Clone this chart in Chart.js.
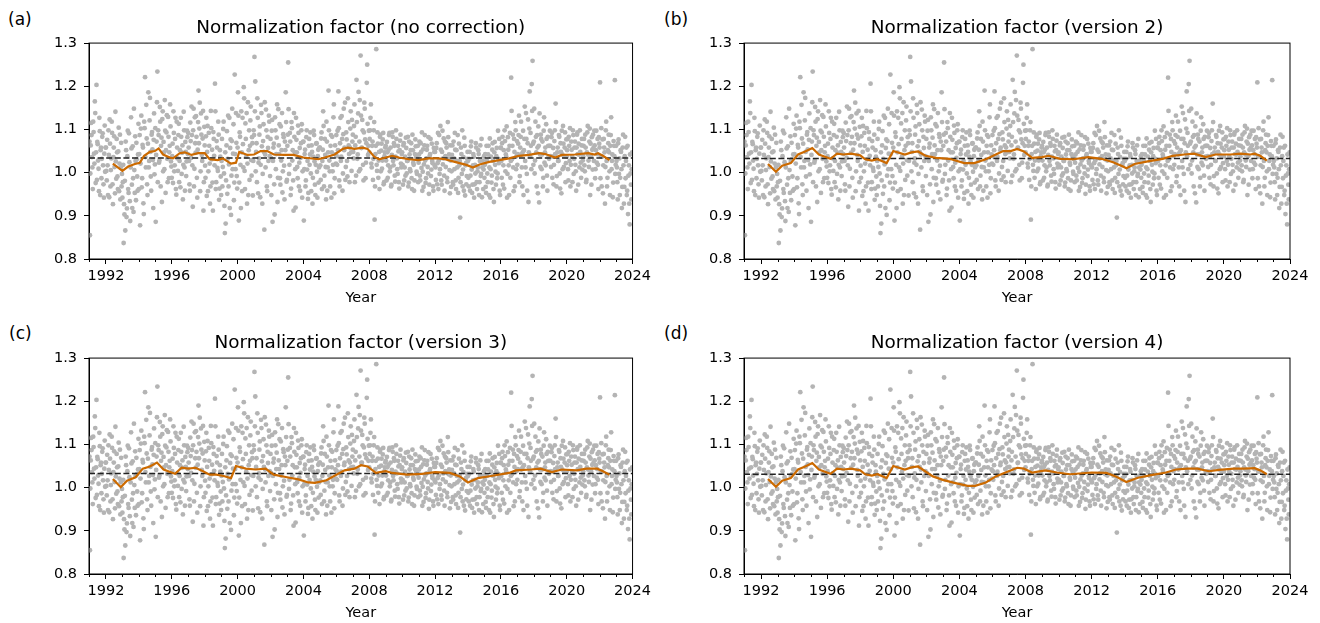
<!DOCTYPE html>
<html>
<head>
<meta charset="utf-8">
<script src="https://cdn.jsdelivr.net/npm/chart.js@4.4.0/dist/chart.umd.min.js"></script>
<style>
body { margin: 0; width: 1320px; height: 623px; overflow: hidden; background: #fff; font-family: 'DejaVu Sans', sans-serif; }
canvas { position: absolute; }
.tag { position: absolute; font-size: 17px; line-height: 20px; color: #000; }
</style>
</head>
<body>
<div class="tag" style="left:8px;top:9px">(a)</div>
<div class="tag" style="left:664px;top:9px">(b)</div>
<div class="tag" style="left:9px;top:323px">(c)</div>
<div class="tag" style="left:664px;top:323px">(d)</div>
<canvas id="chartA" style="left:0;top:0" width="655" height="315"></canvas>
<canvas id="chartB" style="left:655px;top:0" width="665" height="315"></canvas>
<canvas id="chartC" style="left:0;top:315px" width="655" height="315"></canvas>
<canvas id="chartD" style="left:655px;top:315px" width="665" height="315"></canvas>
<script>
const startYear = 1991;
const perYear = 20;
// one row per year, samples in time order (first half of each sampling step)
const scatterRows = [
  [0.855,1.063,1.087,1.012,1.118,1.044,1.165,0.976,1.203,1.071,1.028,0.957,1.096,1.052,0.987,1.083,1.017,0.942,1.109,1.058],
  [1.004,1.076,0.948,1.041,1.123,0.968,1.033,1.092,0.927,1.058,1.013,1.141,0.986,1.047,0.962,1.104,1.021,0.938,1.069,0.997],
  [0.978,0.837,0.903,0.866,1.052,0.917,1.097,0.953,1.024,0.888,1.128,0.972,1.061,0.909,1.006,1.084,0.936,1.031,0.958,1.113],
  [1.043,0.878,1.102,0.966,1.064,0.929,1.118,1.221,1.012,1.079,0.948,1.186,1.027,1.173,0.991,1.088,1.054,0.918,1.137,1.019],
  [0.886,1.072,1.234,1.098,1.023,1.152,0.968,1.081,1.124,1.003,1.047,1.168,0.953,1.093,1.032,1.129,0.987,1.062,1.107,1.014],
  [1.038,0.976,1.092,1.017,1.127,0.949,1.058,1.004,1.113,1.027,0.966,1.083,1.046,0.938,1.141,1.012,1.071,0.992,1.097,1.043],
  [1.058,0.973,1.116,1.034,1.087,0.921,1.148,1.009,1.068,1.131,0.988,1.053,1.19,1.102,0.957,1.137,1.041,1.079,0.912,1.106],
  [1.016,1.084,0.946,1.108,1.003,1.062,0.928,1.143,1.031,0.977,1.094,1.039,1.206,0.962,1.073,1.011,1.118,0.937,1.052,0.991],
  [1.027,0.968,1.101,0.998,0.86,0.882,1.063,0.951,1.132,1.019,0.918,1.077,0.993,1.148,1.044,0.936,1.227,1.008,1.069,0.963],
  [1.186,0.889,1.093,1.018,1.142,0.957,1.066,1.198,1.004,1.114,1.037,0.928,1.163,1.052,0.983,1.121,1.029,1.082,0.947,1.098],
  [1.268,1.211,1.048,0.978,1.127,1.023,1.088,0.943,1.157,1.061,0.997,1.112,0.868,1.042,1.146,0.968,1.083,1.027,1.118,0.992],
  [1.034,1.097,0.886,1.058,0.973,1.128,1.008,1.081,0.932,1.147,1.043,0.987,1.107,1.052,0.954,1.089,1.016,1.072,1.186,0.979],
  [1.062,1.255,0.997,1.092,0.948,1.117,1.028,0.982,1.138,1.047,0.919,1.076,1.013,1.109,0.968,1.057,1.034,1.098,0.942,1.071],
  [0.889,1.043,0.968,1.082,1.007,0.939,1.062,1.018,1.093,0.957,1.048,0.988,1.097,1.026,0.948,1.067,1.002,1.038,0.977,1.058],
  [1.017,1.079,0.962,1.053,1.108,0.993,1.041,0.938,1.072,1.012,1.19,1.028,0.968,1.087,1.047,1.003,1.128,0.952,1.063,1.021],
  [1.038,1.097,1.188,0.982,1.068,1.027,1.131,0.958,1.089,1.052,1.162,1.013,1.077,0.991,1.117,1.043,1.058,1.142,1.004,1.072],
  [1.048,1.108,0.978,1.083,1.215,1.032,1.137,1.003,1.168,1.271,1.057,1.122,1.018,1.093,1.148,0.987,1.068,1.25,1.041,1.097],
  [1.078,1.127,1.021,1.062,0.983,1.098,0.891,1.043,1.286,1.004,1.067,1.028,0.962,1.088,1.051,1.009,1.077,0.973,1.038,1.058],
  [1.028,1.071,0.988,1.053,1.092,1.012,0.968,1.041,1.083,1.017,1.062,0.979,1.098,1.033,0.997,1.049,0.963,1.074,1.021,1.043],
  [1.018,1.063,0.982,1.037,1.081,0.998,1.027,0.968,1.072,1.008,1.052,0.987,1.088,1.023,0.958,1.043,1.061,1.002,1.031,0.978],
  [1.042,0.993,1.068,1.011,0.958,1.054,1.019,1.087,0.976,1.033,1.062,0.998,0.951,1.039,1.078,1.007,1.027,0.968,1.057,1.016],
  [1.012,1.057,0.973,1.092,1.028,0.997,1.108,0.982,1.048,1.019,1.079,0.958,1.038,1.068,0.988,1.117,1.031,1.006,1.063,0.967],
  [1.041,0.978,1.072,1.008,1.053,0.962,1.027,1.087,0.988,1.017,0.896,1.058,0.997,0.968,1.036,1.081,0.947,1.022,0.992,1.048],
  [0.988,1.032,0.958,1.061,1.007,0.972,1.043,0.942,1.018,1.068,0.978,1.003,1.052,0.948,1.027,0.992,1.078,1.012,0.962,1.038],
  [1.018,0.967,1.062,0.998,1.042,0.948,1.079,1.008,0.977,1.053,1.027,0.932,1.071,1.002,1.038,0.987,1.097,1.022,0.958,1.058],
  [1.027,1.068,0.972,1.052,1.098,1.003,1.037,0.942,1.082,1.017,1.062,0.988,1.22,1.031,1.088,0.957,1.048,1.117,1.008,1.073],
  [1.043,1.087,0.978,1.058,1.118,1.012,1.047,0.948,1.078,1.027,1.138,0.997,1.068,0.932,1.102,1.038,1.062,1.205,1.259,1.018],
  [1.148,1.028,1.083,0.968,1.058,1.107,0.931,1.042,1.088,1.008,1.072,0.988,1.128,1.047,1.017,1.078,0.958,1.062,1.032,1.097],
  [1.038,1.082,0.988,1.057,1.018,1.098,1.16,0.968,1.047,1.027,1.087,0.998,1.068,0.952,1.042,1.108,1.013,1.058,0.978,1.077],
  [1.052,1.008,1.083,1.027,0.968,1.072,1.037,1.098,0.997,1.058,1.018,0.958,1.088,1.043,1.067,1.012,1.048,0.988,1.078,1.028],
  [1.062,1.017,1.088,0.978,1.047,1.108,1.028,1.072,0.948,1.038,1.082,1.007,1.057,1.097,0.987,1.052,1.023,1.078,0.962,1.067],
  [1.209,1.038,0.968,1.077,1.017,1.058,0.928,1.098,1.027,0.988,1.068,1.047,0.948,1.087,1.008,1.042,0.977,1.062,1.214,1.018],
  [1.027,0.978,1.068,0.997,0.948,1.052,1.008,0.967,1.088,0.928,1.038,0.987,1.058,0.958,0.904,1.017,0.88,0.998,0.938,1.047]
];
// samples at the start of each sampling step
const scatterRows2 = [
  [1.072,0.998,1.115,1.036,0.962,1.094,1.021,1.138,1.047,0.983,1.066,1.009,1.127,0.948,1.058,1.032,1.091,0.973,1.044,1.002],
  [1.058,0.982,1.017,1.098,0.943,1.067,1.006,1.118,0.973,1.036,1.084,0.952,1.026,1.078,0.991,1.049,0.957,1.088,1.012,0.968],
  [0.942,1.018,0.927,0.981,1.072,0.897,1.038,0.962,1.091,0.934,1.012,1.056,0.918,0.987,1.148,0.953,1.027,1.069,0.991,1.042],
  [0.962,1.087,1.021,1.132,0.987,1.058,0.904,1.103,1.036,1.157,0.973,1.067,1.012,1.121,1.048,0.958,1.094,1.029,1.076,0.996],
  [1.103,1.041,1.163,0.978,1.087,1.028,1.118,1.062,0.932,1.142,1.071,1.008,1.097,1.052,1.133,0.978,1.083,1.047,1.158,1.026],
  [0.988,1.067,1.142,1.003,1.078,0.962,1.118,1.033,1.087,0.978,1.052,1.127,0.997,1.063,1.018,1.098,0.958,1.048,1.026,1.082],
  [1.092,1.027,0.958,1.073,1.153,1.017,1.098,0.968,1.128,1.046,1.083,0.942,1.117,1.068,1.162,1.003,1.088,1.027,1.143,0.978],
  [1.063,0.988,1.127,1.048,0.957,1.092,1.021,0.968,1.103,1.053,0.912,1.078,1.017,1.142,0.978,1.058,1.004,1.088,0.963,1.037],
  [0.948,1.078,1.013,1.118,0.923,1.047,0.982,1.096,1.032,0.968,1.127,1.057,0.902,1.073,1.008,1.112,0.977,1.043,1.138,0.992],
  [1.058,1.132,0.977,1.083,0.918,1.047,1.127,1.012,1.172,0.962,1.078,1.138,1.021,0.948,1.098,1.062,1.153,0.993,1.068,1.027],
  [1.087,1.142,1.003,1.068,1.172,0.952,1.033,1.107,1.018,1.138,0.928,1.073,1.048,1.163,1.012,1.098,0.957,1.057,1.132,1.038],
  [1.078,0.948,1.122,1.027,1.067,0.903,1.098,1.043,1.158,0.988,1.063,1.112,0.972,1.028,1.138,1.003,1.082,0.938,1.052,1.117],
  [0.983,1.088,1.147,1.018,1.072,0.963,1.103,1.052,0.912,1.083,1.008,1.127,1.047,0.987,1.092,1.023,0.958,1.068,1.112,1.003],
  [1.072,1.008,1.053,0.982,1.098,1.027,0.953,1.078,1.042,0.998,1.063,0.928,1.037,1.087,0.972,1.018,1.068,0.942,1.053,1.012],
  [1.058,0.983,1.093,1.027,1.142,0.968,1.078,1.013,1.118,0.958,1.047,1.098,1.003,1.062,0.942,1.083,1.018,1.158,0.987,1.042],
  [1.087,1.018,1.052,1.103,0.968,1.127,1.037,1.078,0.998,1.148,1.058,0.983,1.093,1.027,1.172,1.063,0.978,1.102,1.047,1.122],
  [1.088,1.033,1.158,1.063,0.993,1.117,1.042,1.187,1.072,1.008,1.132,1.058,1.098,0.982,1.162,1.077,1.023,1.208,1.113,1.062],
  [1.047,1.098,1.158,1.012,1.072,1.032,1.117,0.968,1.062,1.018,1.093,0.988,1.048,1.083,1.003,1.067,1.028,1.092,0.978,1.047],
  [1.062,0.982,1.047,1.017,1.087,1.003,1.058,0.972,1.093,1.027,1.068,0.993,1.037,1.078,1.008,1.062,0.978,1.052,1.088,1.012],
  [1.047,0.972,1.068,1.012,0.993,1.057,1.027,1.083,0.977,1.042,1.003,1.068,0.962,1.052,1.018,0.982,1.077,1.037,0.997,1.062],
  [1.023,1.072,0.982,1.048,1.093,1.002,0.967,1.063,1.028,0.987,1.053,1.013,1.082,0.972,1.043,0.992,1.067,1.022,0.958,1.048],
  [1.048,0.983,1.068,1.022,0.962,1.087,1.008,1.053,0.972,1.097,1.033,0.993,1.072,1.013,1.058,0.978,1.082,1.042,0.952,1.028],
  [1.003,1.063,0.972,1.033,1.092,0.982,1.052,1.012,0.953,1.067,1.027,0.978,1.043,1.098,1.007,0.958,1.062,1.017,0.973,1.032],
  [1.027,0.968,1.048,0.993,1.072,0.953,1.017,1.037,0.973,0.998,1.058,0.962,1.012,1.043,0.978,1.063,0.997,0.943,1.028,1.007],
  [0.988,1.043,0.953,1.027,0.978,1.062,1.012,0.942,1.037,0.993,1.068,0.962,1.047,1.018,0.972,1.057,0.998,1.032,1.078,0.948],
  [1.057,0.988,1.083,1.017,0.963,1.073,1.042,1.107,0.997,1.053,0.948,1.092,1.027,1.143,1.062,1.012,1.078,0.968,1.098,1.038],
  [1.018,1.067,1.132,0.992,1.083,1.042,0.968,1.097,1.052,1.153,1.012,1.078,0.958,1.123,1.047,1.188,1.092,1.008,1.143,1.067],
  [1.072,0.998,1.118,1.047,1.087,0.952,1.062,1.137,1.013,1.078,1.042,0.968,1.097,1.023,1.058,1.112,0.993,1.083,1.037,1.062],
  [1.062,1.013,1.092,1.037,0.973,1.073,1.043,1.117,0.992,1.058,1.027,1.083,0.963,1.048,1.097,1.008,1.067,1.038,1.093,1.022],
  [1.037,1.078,0.982,1.062,1.103,1.018,1.053,0.978,1.087,1.032,1.072,1.003,1.058,1.093,0.972,1.042,1.098,1.023,1.063,1.007],
  [1.038,1.078,1.003,1.058,0.983,1.093,1.042,1.013,1.102,1.067,0.972,1.053,1.088,1.027,1.063,1.008,1.097,1.043,1.018,1.082],
  [1.058,0.987,1.103,1.037,0.952,1.078,1.047,1.013,1.118,0.968,1.052,1.088,1.003,1.062,1.128,1.027,0.943,1.073,1.038,0.997],
  [1.062,1.012,0.938,1.077,1.033,0.988,1.048,0.918,1.058,1.017,0.967,1.083,1.027,0.948,1.062,0.993,0.928,1.042,0.972,1.008]
];

const runYearsA = [1992.42,1993.0,1993.35,1993.76,1994.06,1994.32,1994.67,1994.97,1995.2,1995.47,1995.88,1996.08,1996.48,1996.79,1997.2,1997.6,1998.0,1998.3,1998.8,1999.1,1999.6,1999.9,2000.1,2000.6,2001.0,2001.4,2001.8,2002.2,2002.8,2003.4,2004.0,2004.9,2005.3,2005.9,2006.4,2006.7,2007.1,2007.6,2007.9,2008.3,2008.6,2009.0,2009.4,2009.8,2010.4,2011.0,2011.6,2012.2,2012.6,2013.2,2013.9,2014.3,2014.7,2015.3,2015.9,2016.5,2017.1,2017.7,2018.3,2018.7,2019.3,2019.7,2020.5,2021.3,2021.7,2021.9,2022.2,2022.6];
const runMeanA = [1.021,1.004,1.014,1.020,1.023,1.039,1.048,1.050,1.056,1.042,1.035,1.033,1.045,1.047,1.041,1.045,1.045,1.031,1.029,1.033,1.021,1.023,1.048,1.041,1.042,1.050,1.050,1.042,1.041,1.041,1.035,1.031,1.035,1.042,1.055,1.058,1.055,1.058,1.055,1.037,1.031,1.035,1.039,1.035,1.031,1.029,1.033,1.033,1.031,1.025,1.018,1.012,1.019,1.025,1.029,1.033,1.039,1.041,1.045,1.043,1.035,1.041,1.042,1.045,1.042,1.045,1.039,1.029];

const runYearsB = [1992.42,1992.9,1993.28,1993.8,1994.24,1994.67,1995.1,1995.5,1996.2,1996.6,1997.0,1997.45,1998.0,1998.3,1998.7,1999.05,1999.6,2000.0,2000.7,2001.1,2001.5,2001.95,2002.6,2003.4,2004.3,2004.9,2005.6,2006.2,2006.65,2007.1,2007.5,2007.9,2008.4,2009.0,2009.4,2010.1,2010.9,2011.8,2012.6,2013.3,2013.9,2014.1,2014.6,2015.4,2016.3,2016.9,2017.6,2018.2,2018.9,2019.5,2020.4,2021.0,2021.6,2021.85,2022.2,2022.6];
const runMeanB = [1.020,1.002,1.016,1.022,1.042,1.049,1.057,1.042,1.032,1.044,1.042,1.044,1.040,1.031,1.028,1.031,1.022,1.050,1.042,1.047,1.049,1.039,1.034,1.032,1.022,1.022,1.031,1.042,1.050,1.050,1.055,1.049,1.034,1.036,1.039,1.032,1.031,1.036,1.032,1.024,1.014,1.010,1.020,1.026,1.032,1.039,1.042,1.044,1.036,1.042,1.042,1.044,1.042,1.044,1.039,1.028];

const runYearsC = [1992.42,1992.9,1993.28,1993.8,1994.24,1994.67,1995.1,1995.5,1996.2,1996.6,1997.0,1997.45,1997.9,1998.3,1998.7,1999.15,1999.6,1999.9,2000.5,2001.1,2001.7,2002.2,2003.0,2003.7,2004.3,2004.7,2005.4,2006.0,2006.5,2007.1,2007.5,2007.9,2008.4,2009.0,2009.4,2010.3,2011.2,2012.0,2012.9,2013.5,2014.0,2014.6,2015.4,2016.5,2016.9,2017.8,2018.4,2019.1,2019.7,2020.6,2021.2,2021.85,2022.2,2022.6];
const runMeanC = [1.020,1.001,1.016,1.024,1.044,1.049,1.058,1.042,1.032,1.046,1.044,1.046,1.038,1.030,1.030,1.027,1.022,1.050,1.044,1.042,1.044,1.030,1.024,1.019,1.012,1.011,1.017,1.030,1.040,1.044,1.052,1.049,1.034,1.038,1.034,1.030,1.032,1.036,1.034,1.026,1.012,1.022,1.027,1.034,1.040,1.042,1.044,1.036,1.042,1.040,1.044,1.044,1.038,1.030];

const runYearsD = [1992.42,1992.9,1993.28,1993.8,1994.24,1994.67,1995.1,1995.5,1996.2,1996.6,1997.0,1997.45,1998.0,1998.3,1998.7,1999.05,1999.6,2000.0,2000.7,2001.1,2001.5,2002.4,2003.0,2003.7,2004.5,2004.95,2005.6,2006.2,2006.9,2007.5,2007.9,2008.4,2009.2,2009.9,2010.7,2012.0,2012.9,2013.5,2014.1,2014.8,2015.6,2016.5,2017.1,2017.8,2018.4,2019.1,2019.7,2020.6,2021.2,2021.85,2022.2,2022.6];
const runMeanD = [1.020,1.002,1.016,1.022,1.042,1.049,1.057,1.042,1.032,1.044,1.042,1.044,1.040,1.031,1.028,1.031,1.022,1.050,1.042,1.047,1.049,1.026,1.018,1.011,1.004,1.004,1.012,1.026,1.037,1.046,1.044,1.035,1.040,1.035,1.031,1.035,1.034,1.025,1.013,1.023,1.029,1.035,1.042,1.044,1.044,1.038,1.041,1.044,1.044,1.045,1.040,1.031];

const refLevels = [1.034, 1.033, 1.033, 1.031];
const titles = ['Normalization factor (no correction)', 'Normalization factor (version 2)',
                'Normalization factor (version 3)', 'Normalization factor (version 4)'];
const xTicks = [1992, 1996, 2000, 2004, 2008, 2012, 2016, 2020, 2024];
const yTicks = [0.8, 0.9, 1.0, 1.1, 1.2, 1.3];
const xMin = 1990.97, xMax = 2024;

const FONT = "'DejaVu Sans', sans-serif";

const points = [];
scatterRows.forEach((row, r) => {
    row.forEach((v, i) => points.push({ x: startYear + r + (i + 0.5) / perYear, y: v }));
});
scatterRows2.forEach((row, r) => {
    row.forEach((v, i) => points.push({ x: startYear + r + i / perYear, y: v }));
});

// full box + unlabeled yearly minor ticks
const framePlugin = {
    id: 'frame',
    afterDraw(chart) {
        const { ctx, chartArea: a, scales: { x } } = chart;
        ctx.save();
        ctx.strokeStyle = '#000';
        ctx.lineWidth = 1;
        ctx.strokeRect(a.left, a.top, a.right - a.left, a.bottom - a.top);
        ctx.beginPath();
        for (let yr = Math.ceil(xMin); yr <= xMax; yr++) {
            if (xTicks.includes(yr)) continue;
            const px = Math.round(x.getPixelForValue(yr)) + 0.5;
            ctx.moveTo(px, a.bottom);
            ctx.lineTo(px, a.bottom + 3);
        }
        ctx.stroke();
        ctx.restore();
    }
};

function makeChart(id, title, runYears, runMean, ref, padRight) {
    return new Chart(document.getElementById(id), {
        type: 'scatter',
        data: {
            datasets: [
                {
                    data: points,
                    pointRadius: 2.4,
                    pointBackgroundColor: '#b4b4b4',
                    pointBorderWidth: 0,
                    order: 3
                },
                {
                    data: [{ x: xMin, y: ref }, { x: xMax, y: ref }],
                    showLine: true,
                    borderColor: '#222222',
                    borderWidth: 1.5,
                    borderDash: [6, 2.6],
                    pointRadius: 0,
                    order: 2
                },
                {
                    data: runYears.map((t, i) => ({ x: t, y: runMean[i] })),
                    showLine: true,
                    borderColor: '#cc6a00',
                    borderWidth: 2.2,
                    pointRadius: 0,
                    order: 1
                }
            ]
        },
        options: {
            responsive: false,
            animation: false,
            events: [],
            layout: { padding: { top: 0, right: padRight, bottom: 0, left: 0 } },
            plugins: {
                legend: { display: false },
                tooltip: { enabled: false },
                title: {
                    display: true,
                    text: title,
                    fullSize: false,
                    color: '#000',
                    font: { family: FONT, size: 18.4, weight: 'normal' },
                    padding: { top: 17, bottom: 4 }
                }
            },
            scales: {
                x: {
                    type: 'linear',
                    min: xMin,
                    max: xMax,
                    afterBuildTicks: s => { s.ticks = xTicks.map(v => ({ value: v })); },
                    afterFit: s => { s.height = 56; },
                    ticks: { color: '#000', font: { family: FONT, size: 14.5 }, padding: 4, maxRotation: 0, autoSkip: false, callback: v => String(v) },
                    grid: { display: true, drawOnChartArea: false, tickLength: 5, tickColor: '#000', tickWidth: 1 },
                    border: { display: true, color: '#000', width: 1 },
                    title: { display: true, text: 'Year', color: '#000', font: { family: FONT, size: 14.5 }, padding: { top: 0, bottom: 8.3 } }
                },
                y: {
                    min: 0.8,
                    max: 1.3,
                    afterBuildTicks: s => { s.ticks = yTicks.map(v => ({ value: v })); },
                    afterFit: s => { s.width = 89; },
                    ticks: { color: '#000', font: { family: FONT, size: 14.5 }, padding: 7, callback: v => v.toFixed(1) },
                    grid: { display: true, drawOnChartArea: false, tickLength: 5, tickColor: '#000', tickWidth: 1 },
                    border: { display: true, color: '#000', width: 1 }
                }
            }
        },
        plugins: [framePlugin]
    });
}

makeChart('chartA', titles[0], runYearsA, runMeanA, refLevels[0], 20);
makeChart('chartB', titles[1], runYearsB, runMeanB, refLevels[1], 30);
makeChart('chartC', titles[2], runYearsC, runMeanC, refLevels[2], 20);
makeChart('chartD', titles[3], runYearsD, runMeanD, refLevels[3], 30);
</script>
</body>
</html>
